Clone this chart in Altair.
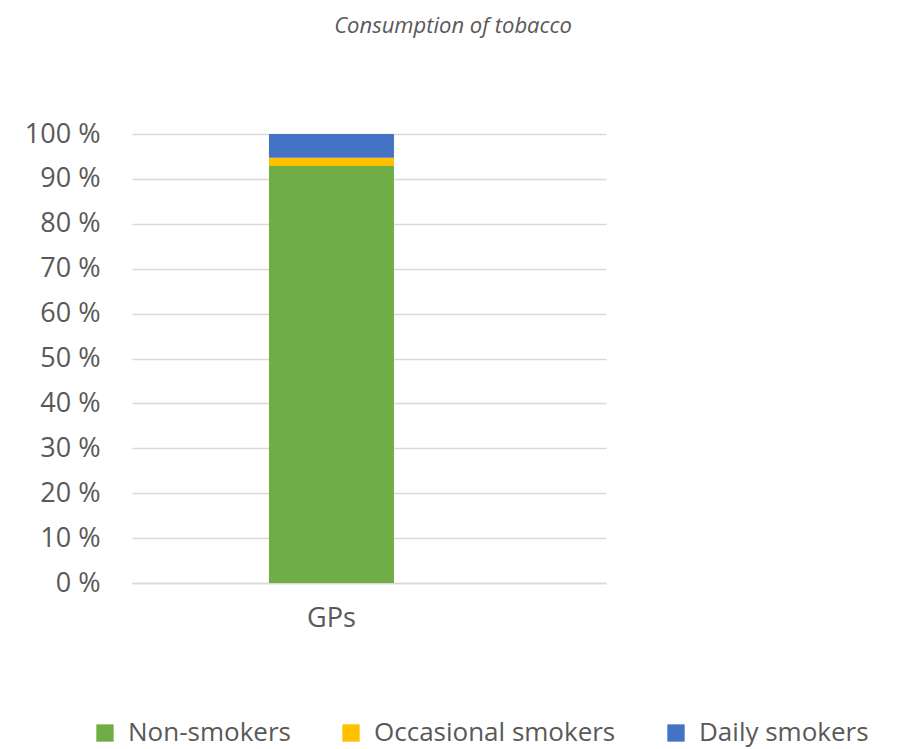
import altair as alt
import pandas as pd

categories = ["GPs", "GPs", "GPs"]
groups = ["Non-smokers", "Occasional smokers", "Daily smokers"]
values = [92.9, 1.8, 5.3]
order = [0, 1, 2]
colors = ["#70AD47", "#FFC000", "#4472C4"]

df = pd.DataFrame({"cat": categories, "group": groups, "value": values, "ord": order})

FONT = "Open Sans"
GREY = "#595959"

chart = alt.Chart(df).mark_bar(size=125).encode(
    x=alt.X("cat:N", title=None,
            scale=alt.Scale(paddingInner=0.5, paddingOuter=1, align=0.401),
            axis=alt.Axis(labelAngle=0, labelFontSize=27, labelColor=GREY, labelFont=FONT,
                          labelPadding=22, ticks=False, domainColor="#d9d9d9", domainWidth=1.5)),
    y=alt.Y("value:Q", title=None, stack="zero",
            scale=alt.Scale(domain=[0, 100], nice=False),
            axis=alt.Axis(values=list(range(0, 101, 10)), labelExpr="datum.value + ' %'",
                          labelFontSize=27, labelColor=GREY, labelFont=FONT, labelPadding=32,
                          ticks=False, domain=False, gridColor="#d9d9d9", gridWidth=1.5)),
    color=alt.Color("group:N", scale=alt.Scale(domain=groups, range=colors),
                    legend=alt.Legend(title=None, orient="none", direction="horizontal",
                                      legendX=-40, legendY=586, symbolType="square", symbolSize=300,
                                      symbolStrokeWidth=0, labelFontSize=26, labelColor=GREY,
                                      labelFont=FONT, labelOffset=10, columnPadding=47,
                                      labelLimit=0)),
    order=alt.Order("ord:Q", sort="ascending"),
).properties(
    width=474, height=449,
    title=alt.TitleParams("Consumption of tobacco", fontSize=22, fontStyle="italic",
                          font=FONT, color=GREY, fontWeight="normal", anchor="middle",
                          dx=84, offset=82),
    padding={"left": 132, "top": 134, "right": 301, "bottom": 166},
    autosize=alt.AutoSizeParams(type="none"),
).configure_view(stroke=None)

chart.save("out.html", embed_options={"renderer": "svg", "actions": False})
